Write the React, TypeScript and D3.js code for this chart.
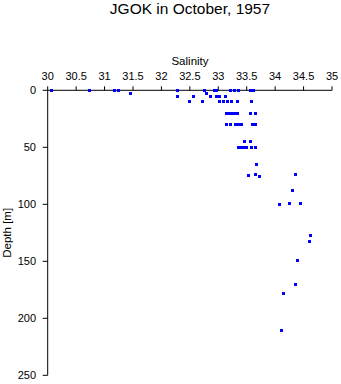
import React from "react";
import * as d3 from "d3";

const title = "JGOK in October, 1957";
const xLabel = "Salinity";
const yLabel = "Depth [m]";
const xTicks = [30, 30.5, 31, 31.5, 32, 32.5, 33, 33.5, 34, 34.5, 35];
const yTicks = [0, 50, 100, 150, 200, 250];

const salinity = [
  30.07, 30.73, 31.17, 31.24, 32.29, 32.76, 32.93, 32.97, 33.22, 33.28, 33.35, 33.57, 33.62,
  31.45, 32.8,
  32.29, 32.56, 32.87, 32.96, 33.02, 33.12,
  32.5, 32.73, 33.03, 33.1, 33.17, 33.24, 33.33, 33.58,
  33.14, 33.19, 33.25, 33.31, 33.34, 33.57, 33.66,
  33.15, 33.22, 33.3, 33.35, 33.41, 33.6, 33.66,
  33.46, 33.56,
  33.36, 33.4, 33.46, 33.5, 33.59, 33.66,
  33.68,
  33.53, 33.66, 33.72, 34.35,
  34.3,
  34.07, 34.25, 34.45,
  34.63, 34.6, 34.4, 34.36, 34.14, 34.12,
];
const depth = [
  0, 0, 0, 0, 0, 0, 0, 0, 0, 0, 0, 0, 0,
  2.5, 2.5,
  5, 5, 5, 5, 5, 5,
  10, 10, 10, 10, 10, 10, 10, 10,
  20, 20, 20, 20, 20, 20, 20,
  30, 30, 30, 30, 30, 30, 30,
  45, 45,
  50, 50, 50, 50, 50, 50,
  65,
  75, 74, 75.5, 74,
  88,
  100, 99.5, 99.5,
  127.5, 133, 149, 170, 178, 211,
];

const W = 341;
const H = 384;
const font = "'Liberation Sans', Arial, sans-serif";

export default function App() {
  const x = d3.scaleLinear().domain([30, 35]).range([47.7, 332]);
  const y = d3.scaleLinear().domain([0, 250]).range([90.3, 375.3]);
  const y0 = y(0);
  const x0 = x(30);
  return (
    <svg
      width={W}
      height={H}
      style={{ position: "absolute", left: 0, top: 0, background: "#fff" }}
      fontFamily={font}
    >
      <text x={190} y={14} textAnchor="middle" fontSize={15.5} fill="#000">
        {title}
      </text>
      <text x={190} y={65} textAnchor="middle" fontSize={11.5} fill="#000">
        {xLabel}
      </text>
      {xTicks.map((t) => (
        <g key={"x" + t}>
          <line x1={x(t)} x2={x(t)} y1={y0} y2={y0 - 4} stroke="#000" />
          <text x={x(t)} y={79.5} textAnchor="middle" fontSize={11} fill="#000">
            {t}
          </text>
        </g>
      ))}
      {yTicks.map((t) => (
        <g key={"y" + t}>
          <line x1={x0 - 5} x2={x0} y1={y(t)} y2={y(t)} stroke="#000" />
          <text x={36} y={y(t)} dy="0.35em" textAnchor="end" fontSize={11} fill="#000">
            {t}
          </text>
        </g>
      ))}
      <line x1={x0} x2={x(35)} y1={y0} y2={y0} stroke="#000" />
      <line x1={x0} x2={x0} y1={y0} y2={y(250)} stroke="#000" />
      <text
        transform={`translate(10.5, ${(y0 + y(250)) / 2}) rotate(-90)`}
        textAnchor="middle"
        fontSize={11.5}
        fill="#000"
      >
        {yLabel}
      </text>
      {salinity.map((s, i) => (
        <rect
          key={"p" + i}
          x={Math.round(x(s) - 1.5)}
          y={Math.round(y(depth[i]) - 1.5)}
          width={3}
          height={3}
          fill="#0000ff"
        />
      ))}
    </svg>
  );
}
